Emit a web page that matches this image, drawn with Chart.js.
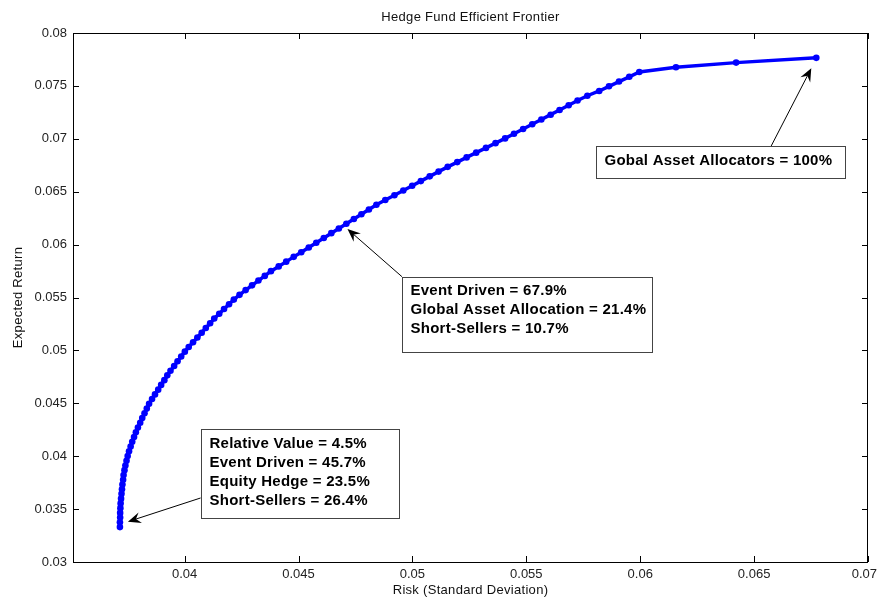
<!DOCTYPE html>
<html>
<head>
<meta charset="utf-8">
<script src="https://cdn.jsdelivr.net/npm/chart.js@4.4.1/dist/chart.umd.min.js"></script>
<style>
  body { margin: 0; background: #fff; }
  canvas { display: block; }
</style>
</head>
<body>
<canvas id="frontierChart" width="878" height="601"></canvas>
<script>
// data: risk (std dev) and expected return of each frontier portfolio
const risk = [
  0.03716, 0.03716, 0.03717, 0.03717, 0.03718, 0.03719, 0.03721, 0.03723, 0.03725, 0.03727,
  0.03730, 0.03732, 0.03736, 0.03740, 0.03745, 0.03750, 0.03756, 0.03763, 0.03770, 0.03778,
  0.03786, 0.03795, 0.03805, 0.03814, 0.03824, 0.03834, 0.03844, 0.03857, 0.03870, 0.03884,
  0.03897, 0.03911, 0.03924, 0.03938, 0.03954, 0.03969, 0.03985, 0.04001, 0.04018, 0.04037,
  0.04056, 0.04075, 0.04093, 0.04112, 0.04130, 0.04152, 0.04173, 0.04195, 0.04216, 0.04241,
  0.04268, 0.04296, 0.04324, 0.04352, 0.04379, 0.04413, 0.04446, 0.04479, 0.04512, 0.04545,
  0.04578, 0.04611, 0.04644, 0.04677, 0.04710, 0.04743, 0.04776, 0.04809, 0.04842, 0.04881,
  0.04921, 0.04960, 0.04999, 0.05037, 0.05076, 0.05115, 0.05155, 0.05197, 0.05238, 0.05280,
  0.05323, 0.05365, 0.05407, 0.05446, 0.05486, 0.05526, 0.05566, 0.05607, 0.05646, 0.05686,
  0.05725, 0.05768, 0.05820, 0.05863, 0.05907, 0.05952, 0.05996, 0.06157, 0.06421, 0.06773
];
const expReturn = [
  0.03330, 0.03375, 0.03420, 0.03464, 0.03509, 0.03554, 0.03599, 0.03644, 0.03688, 0.03733,
  0.03778, 0.03823, 0.03868, 0.03912, 0.03957, 0.04002, 0.04047, 0.04092, 0.04136, 0.04181,
  0.04226, 0.04271, 0.04316, 0.04360, 0.04405, 0.04450, 0.04495, 0.04540, 0.04584, 0.04629,
  0.04674, 0.04719, 0.04764, 0.04808, 0.04853, 0.04898, 0.04943, 0.04988, 0.05032, 0.05077,
  0.05122, 0.05167, 0.05212, 0.05256, 0.05301, 0.05346, 0.05391, 0.05436, 0.05480, 0.05525,
  0.05570, 0.05615, 0.05660, 0.05704, 0.05749, 0.05794, 0.05839, 0.05884, 0.05928, 0.05973,
  0.06018, 0.06063, 0.06108, 0.06152, 0.06197, 0.06242, 0.06287, 0.06332, 0.06376, 0.06421,
  0.06466, 0.06511, 0.06556, 0.06600, 0.06645, 0.06690, 0.06735, 0.06780, 0.06824, 0.06869,
  0.06914, 0.06959, 0.07004, 0.07048, 0.07093, 0.07138, 0.07183, 0.07228, 0.07272, 0.07317,
  0.07362, 0.07407, 0.07452, 0.07496, 0.07541, 0.07586, 0.07631, 0.07676, 0.07720, 0.07765
];
const xTicks = [0.04, 0.045, 0.05, 0.055, 0.06, 0.065, 0.07];
const yTicks = [0.03, 0.035, 0.04, 0.045, 0.05, 0.055, 0.06, 0.065, 0.07, 0.075, 0.08];

const noteLow = ['Relative Value = 4.5%', 'Event Driven = 45.7%', 'Equity Hedge = 23.5%', 'Short-Sellers = 26.4%'];
const noteMid = ['Event Driven = 67.9%', 'Global Asset Allocation = 21.4%', 'Short-Sellers = 10.7%'];
const noteTop = ['Gobal Asset Allocators = 100%'];

const FONT = '"Liberation Sans", Arial, sans-serif';

// text boxes: corner and arrow ends given in data units, box size in px
const notes = [
  { lines: noteLow, at: [0.0407, 0.0426], w: 198, h: 89, first: 14.5, tail: [0.0407, 0.03605], tip: [0.03751, 0.03381] },
  { lines: noteMid, at: [0.04954, 0.05697], w: 250, h: 75, first: 13.5, tail: [0.04954, 0.05697], tip: [0.04715, 0.06147] },
  { lines: noteTop, at: [0.05808, 0.06932], w: 249, h: 32, first: 14, tail: [0.06575, 0.06932], tip: [0.06751, 0.07666] }
];

function arrow(ctx, x1, y1, x2, y2) {
  const a = Math.atan2(y2 - y1, x2 - x1);
  const len = 13, half = 5.5, notch = 0.65;
  const c = Math.cos(a), s = Math.sin(a);
  ctx.beginPath();
  ctx.moveTo(x1, y1);
  ctx.lineTo(x2 - c * len * notch, y2 - s * len * notch);
  ctx.strokeStyle = '#000';
  ctx.lineWidth = 1;
  ctx.stroke();
  ctx.beginPath();
  ctx.moveTo(x2, y2);
  ctx.lineTo(x2 - c * len + s * half, y2 - s * len - c * half);
  ctx.lineTo(x2 - c * len * notch, y2 - s * len * notch);
  ctx.lineTo(x2 - c * len - s * half, y2 - s * len + c * half);
  ctx.closePath();
  ctx.fillStyle = '#000';
  ctx.fill();
}

const matlabFrame = {
  id: 'matlabFrame',
  afterDraw(chart) {
    const ctx = chart.ctx;
    const { left, right, top, bottom } = chart.chartArea;
    const xs = chart.scales.x, ys = chart.scales.y;
    ctx.save();

    // box + inward ticks
    ctx.strokeStyle = '#000';
    ctx.lineWidth = 1;
    ctx.strokeRect(left + 0.5, top + 0.5, right - left - 1, bottom - top);
    ctx.beginPath();
    xTicks.forEach(v => {
      const px = Math.round(xs.getPixelForValue(v)) + 0.5;
      ctx.moveTo(px, bottom); ctx.lineTo(px, bottom - 6);
      ctx.moveTo(px, top); ctx.lineTo(px, top + 6);
    });
    yTicks.forEach(v => {
      const py = Math.round(ys.getPixelForValue(v)) + 0.5;
      ctx.moveTo(left, py); ctx.lineTo(left + 6, py);
      ctx.moveTo(right, py); ctx.lineTo(right - 6, py);
    });
    ctx.stroke();

    // x tick labels, last one kept inside the canvas
    ctx.fillStyle = '#222';
    ctx.font = '13px ' + FONT;
    ctx.textBaseline = 'middle';
    ctx.textAlign = 'center';
    xTicks.forEach(v => {
      const t = String(v);
      const w = ctx.measureText(t).width;
      const cx = Math.min(xs.getPixelForValue(v), chart.width - 1 - w / 2);
      ctx.fillText(t, cx, bottom + 12);
    });

    // titles
    ctx.fillStyle = '#111';
    ctx.letterSpacing = '0.3px';
    ctx.fillText('Hedge Fund Efficient Frontier', (left + right) / 2, 17);
    ctx.fillText('Risk (Standard Deviation)', (left + right) / 2, 590);
    ctx.save();
    ctx.translate(18, (top + bottom) / 2);
    ctx.rotate(-Math.PI / 2);
    ctx.fillText('Expected Return', 0, 0);
    ctx.restore();

    // annotations
    notes.forEach(n => {
      const bx = Math.round(xs.getPixelForValue(n.at[0])) + 0.5;
      const by = Math.round(ys.getPixelForValue(n.at[1])) + 0.5;
      arrow(ctx, xs.getPixelForValue(n.tail[0]), ys.getPixelForValue(n.tail[1]),
                 xs.getPixelForValue(n.tip[0]), ys.getPixelForValue(n.tip[1]));
      ctx.fillStyle = '#fff';
      ctx.fillRect(bx, by, n.w, n.h);
      ctx.strokeStyle = '#444';
      ctx.lineWidth = 1;
      ctx.strokeRect(bx, by, n.w, n.h);
      ctx.fillStyle = '#000';
      ctx.font = 'bold 15px ' + FONT;
      ctx.letterSpacing = '0.25px';
      ctx.textAlign = 'left';
      ctx.textBaseline = 'middle';
      n.lines.forEach((t, i) => ctx.fillText(t, bx + 8, by + n.first + i * 19));
    });
    ctx.letterSpacing = '0px';
    ctx.restore();
  }
};

const ctx = document.getElementById('frontierChart');

new Chart(ctx, {
  type: 'scatter',
  data: {
    datasets: [{
      label: 'Efficient Frontier',
      data: risk.map((r, i) => ({ x: r, y: expReturn[i] })),
      showLine: true,
      borderColor: '#0000ff',
      backgroundColor: '#0000ff',
      borderWidth: 3.5,
      pointRadius: 3.3,
      pointBorderWidth: 0,
      pointBackgroundColor: '#0000ff'
    }]
  },
  options: {
    responsive: false,
    animation: false,
    layout: { padding: { top: 33, right: 10, left: 0, bottom: 0 } },
    plugins: { legend: { display: false }, tooltip: { enabled: false }, title: { display: false } },
    scales: {
      x: {
        type: 'linear',
        min: 0.0351,
        max: 0.07,
        grid: { display: false, drawTicks: false },
        border: { display: false },
        afterBuildTicks: s => { s.ticks = xTicks.map(v => ({ value: v })); },
        afterFit: s => { s.height = 39; s.paddingLeft = 0; s.paddingRight = 0; },
        ticks: { display: false }
      },
      y: {
        type: 'linear',
        min: 0.03,
        max: 0.08,
        grid: { display: false, drawTicks: false },
        border: { display: false },
        afterBuildTicks: s => { s.ticks = yTicks.map(v => ({ value: v })); },
        afterFit: s => { s.width = 73; s.paddingTop = 0; s.paddingBottom = 0; },
        ticks: { padding: 6, color: '#222', font: { family: FONT, size: 13 }, callback: v => String(v) }
      }
    }
  },
  plugins: [matlabFrame]
});
</script>
</body>
</html>
